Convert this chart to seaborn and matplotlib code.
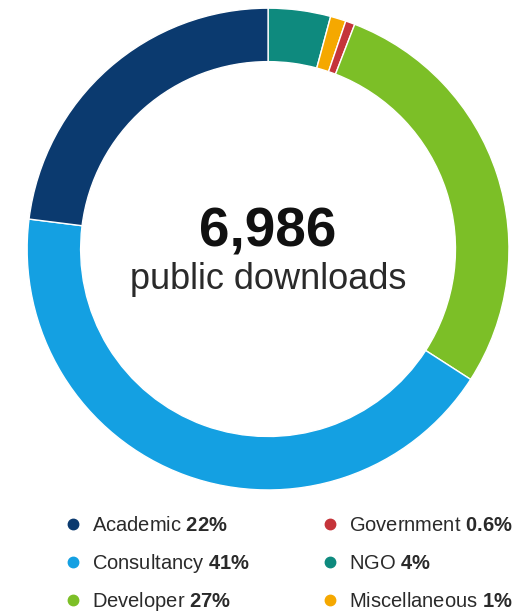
import matplotlib
matplotlib.use("Agg")
import matplotlib.pyplot as plt
import seaborn as sns

sns.set_theme(style="white")
plt.rcParams['font.family'] = ['Liberation Sans', 'DejaVu Sans']
plt.rcParams['mathtext.fontset'] = 'custom'
plt.rcParams['mathtext.rm'] = 'Liberation Sans'
plt.rcParams['mathtext.bf'] = 'Liberation Sans:bold'

# data (clockwise from 12 o'clock)
ring_cats = ["NGO", "Miscellaneous", "Government", "Developer", "Consultancy", "Academic"]
ring_vals = [4, 1, 0.6, 27, 41, 22]
ring_labels = ["4%", "1%", "0.6%", "27%", "41%", "22%"]
colors = {
    "Academic": "#0b3a6f",
    "Consultancy": "#14a0e2",
    "Developer": "#7cbf27",
    "Government": "#c5343a",
    "NGO": "#0e8a7e",
    "Miscellaneous": "#f5a800",
}
legend_order = ["Academic", "Consultancy", "Developer", "Government", "NGO", "Miscellaneous"]
total_downloads = "6,986"
center_caption = "public downloads"

W, H = 531, 613
fig = plt.figure(figsize=(W / 100, H / 100), dpi=100)
ax = fig.add_axes([0.0508, 0.2007, 0.908, 0.786])
ax.pie(ring_vals, colors=[colors[c] for c in ring_cats], startangle=90,
       counterclock=False, radius=1.0,
       wedgeprops=dict(width=0.222, edgecolor="white", linewidth=1.0))
ax.set_aspect("equal")
ax.set_xlim(-1.0, 1.0)
ax.set_ylim(-1.0, 1.0)
ax.axis("off")

ax.text(0, 0.07, total_downloads, ha="center", va="center", fontsize=39.5,
        fontweight="bold", color="#111111")
ax.text(0, -0.128, center_caption, ha="center", va="center", fontsize=26,
        color="#2a2a2a")

# legend drawn in a pixel-space overlay axes (2 columns x 3 rows)
lax = fig.add_axes([0, 0, 1, 1])
lax.set_xlim(0, W)
lax.set_ylim(H, 0)
lax.axis("off")
lab = dict(zip(ring_cats, ring_labels))
col_x = [73, 330]
row_y0, row_dy = 524, 38
for i, cat in enumerate(legend_order):
    col, row = divmod(i, 3)
    x = col_x[col]
    y = row_y0 + row * row_dy
    lax.plot([x], [y], marker="o", markersize=7.5, color=colors[cat], linestyle="none")
    pct = lab[cat].replace('%', r'\%')
    lax.text(x + 19, y + 7, f"{cat} $\\mathbf{{{pct}}}$", ha="left", va="baseline",
             fontsize=14.5, color="#2a2a2a")

fig.savefig("out.png", dpi=100, facecolor="white")
